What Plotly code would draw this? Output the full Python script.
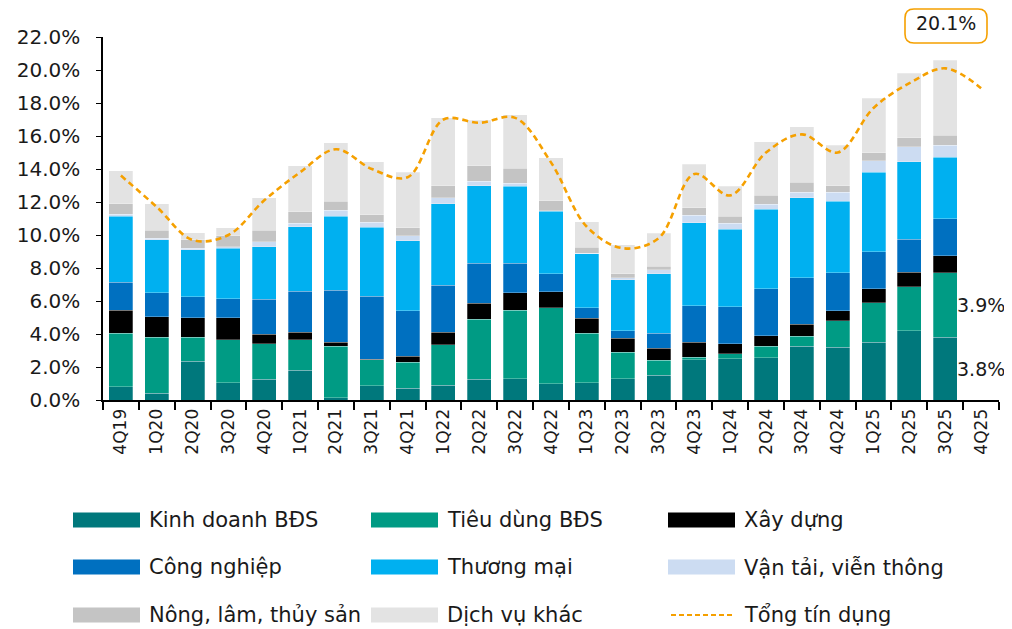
import plotly.graph_objects as go

quarters = ["4Q19", "1Q20", "2Q20", "3Q20", "4Q20", "1Q21", "2Q21", "3Q21", "4Q21",
            "1Q22", "2Q22", "3Q22", "4Q22", "1Q23", "2Q23", "3Q23", "4Q23",
            "1Q24", "2Q24", "3Q24", "4Q24", "1Q25", "2Q25", "3Q25", "4Q25"]

kinh_doanh_bds = [0.80, 0.40, 2.35, 1.05, 1.25, 1.80, 0.15, 0.85, 0.70, 0.90, 1.25, 1.30, 1.00,
                  1.05, 1.30, 1.50, 2.45, 2.50, 2.55, 3.25, 3.20, 3.50, 4.20, 3.80, None]
tieu_dung_bds = [3.25, 3.40, 1.45, 2.60, 2.15, 1.85, 3.10, 1.60, 1.60, 2.45, 3.65, 4.15, 4.60,
                 3.00, 1.60, 0.90, 0.15, 0.30, 0.70, 0.60, 1.60, 2.40, 2.65, 3.90, None]
xay_dung = [1.40, 1.25, 1.20, 1.35, 0.60, 0.45, 0.25, 0.03, 0.35, 0.75, 0.95, 1.05, 0.95,
            0.90, 0.85, 0.75, 0.90, 0.60, 0.65, 0.75, 0.60, 0.85, 0.90, 1.05, None]
cong_nghiep = [1.70, 1.45, 1.25, 1.15, 2.10, 2.50, 3.15, 3.80, 2.75, 2.85, 2.45, 1.80, 1.10,
               0.65, 0.45, 0.90, 2.20, 2.25, 2.85, 2.80, 2.30, 2.25, 2.00, 2.25, None]
thuong_mai = [4.00, 3.20, 2.85, 3.05, 3.20, 3.90, 4.50, 4.20, 4.25, 4.95, 4.70, 4.65, 3.80,
              3.25, 3.10, 3.60, 5.05, 4.70, 4.80, 4.85, 4.35, 4.80, 4.70, 3.70, None]
van_tai_vien_thong = [0.10, 0.10, 0.10, 0.10, 0.30, 0.20, 0.35, 0.30, 0.30, 0.35, 0.25, 0.20, 0.02,
                      0.05, 0.10, 0.25, 0.45, 0.35, 0.30, 0.35, 0.55, 0.70, 0.90, 0.75, None]
nong_lam_thuy_san = [0.65, 0.50, 0.50, 0.65, 0.70, 0.70, 0.55, 0.45, 0.50, 0.75, 0.95, 0.90, 0.60,
                     0.35, 0.25, 0.20, 0.45, 0.45, 0.55, 0.60, 0.40, 0.50, 0.55, 0.60, None]
dich_vu_khac = [2.00, 1.60, 0.45, 0.50, 1.95, 2.80, 3.55, 3.20, 3.35, 4.10, 2.75, 3.25, 2.60,
                1.55, 1.75, 2.00, 2.65, 1.80, 3.25, 3.35, 2.45, 3.30, 3.90, 4.55, None]
tong_tin_dung = [13.6, 11.7, 9.7, 10.0, 12.1, 13.8, 15.2, 14.0, 13.5, 17.0, 16.8, 17.1, 14.4,
                 10.5, 9.2, 9.8, 13.7, 12.4, 15.0, 16.1, 15.0, 17.7, 19.2, 20.1, 18.9]

series = [
    ("Kinh doanh BĐS", kinh_doanh_bds, "#00787C"),
    ("Tiêu dùng BĐS", tieu_dung_bds, "#009B84"),
    ("Xây dựng", xay_dung, "#000000"),
    ("Công nghiệp", cong_nghiep, "#0070C0"),
    ("Thương mại", thuong_mai, "#00B0F0"),
    ("Vận tải, viễn thông", van_tai_vien_thong, "#CCDCF2"),
    ("Nông, lâm, thủy sản", nong_lam_thuy_san, "#C4C4C4"),
    ("Dịch vụ khác", dich_vu_khac, "#E3E3E3"),
]
line_name = "Tổng tín dụng"
line_color = "#F5A000"

FONT = "DejaVu Sans"
TEXT = "#1a1a1a"
OFF = 8  # page body margin
W, H = 1012 - OFF, 629 - OFF
L, R, T, B = 103 - OFF, 13, 37 - OFF, 229
PW, PH = W - L - R, H - T - B


def px(x):
    return (x - OFF - L) / PW


def py(y):
    return (H - B - (y - OFF)) / PH


fig = go.Figure()
for name, vals, col in series:
    fig.add_trace(go.Bar(
        x=quarters, y=vals, name=name, marker_color=col,
        marker_line=dict(width=0.6, color="rgba(255,255,255,0.45)"),
        showlegend=False,
    ))
fig.add_trace(go.Scatter(
    x=quarters, y=tong_tin_dung, name=line_name, mode="lines",
    line=dict(color=line_color, width=2.6, dash="6px,4px", shape="spline", smoothing=1.0),
    showlegend=False,
))

shapes = []
annotations = []

# manual legend
cols_x = [73, 371, 668]
rows_y = [520, 567, 615]
entries = [(n, c, "bar") for n, _, c in series] + [(line_name, line_color, "line")]
for i, (name, col, kind) in enumerate(entries):
    r, c = divmod(i, 3)
    x0 = cols_x[c]
    yc = rows_y[r]
    if kind == "bar":
        shapes.append(dict(type="rect", xref="paper", yref="paper",
                           x0=px(x0), x1=px(x0 + 67), y0=py(yc + 7.5), y1=py(yc - 7.5),
                           fillcolor=col, line=dict(width=0)))
    else:
        shapes.append(dict(type="line", xref="paper", yref="paper",
                           x0=px(x0 + 3), x1=px(x0 + 67), y0=py(yc), y1=py(yc),
                           line=dict(color=col, width=2.2, dash="5px,3px")))
    annotations.append(dict(text=name, xref="paper", yref="paper", x=px(x0 + 74), y=py(yc),
                            xanchor="left", yanchor="middle", showarrow=False,
                            font=dict(family=FONT, size=21, color=TEXT)))

# labels for 3Q25 segments
i_last = quarters.index("3Q25")
kd = kinh_doanh_bds[i_last]
td = tieu_dung_bds[i_last]
annotations.append(dict(text=f"{td:.1f}%", x="4Q25", y=kd + td / 2, xref="x", yref="y",
                        showarrow=False, xanchor="center", yanchor="middle", xshift=0,
                        font=dict(family=FONT, size=19, color=TEXT)))
annotations.append(dict(text=f"{kd:.1f}%", x="4Q25", y=kd / 2, xref="x", yref="y",
                        showarrow=False, xanchor="center", yanchor="middle", xshift=0,
                        font=dict(family=FONT, size=19, color=TEXT)))

# highlighted total value box
bx0, bx1, by0, by1, rad = 905, 987, 9, 43, 9
rx, ry = rad / PW, rad / PH
X0, X1, Y0, Y1 = px(bx0), px(bx1), py(by1), py(by0)
path = (f"M{X0 + rx},{Y1} L{X1 - rx},{Y1} Q{X1},{Y1} {X1},{Y1 - ry} "
        f"L{X1},{Y0 + ry} Q{X1},{Y0} {X1 - rx},{Y0} L{X0 + rx},{Y0} "
        f"Q{X0},{Y0} {X0},{Y0 + ry} L{X0},{Y1 - ry} Q{X0},{Y1} {X0 + rx},{Y1} Z")
shapes.append(dict(type="path", xref="paper", yref="paper", path=path,
                   line=dict(color=line_color, width=1.6), fillcolor="white"))
annotations.append(dict(text=f"{tong_tin_dung[i_last]:.1f}%", xref="paper", yref="paper",
                        x=px((bx0 + bx1) / 2), y=py(23),
                        xanchor="center", yanchor="middle", showarrow=False,
                        font=dict(family=FONT, size=19, color=TEXT)))

fig.update_layout(
    width=W, height=H,
    margin=dict(l=L, r=R, t=T, b=B, autoexpand=False),
    barmode="stack", bargap=0.33,
    plot_bgcolor="white", paper_bgcolor="white",
    font=dict(family=FONT, size=18, color=TEXT),
    shapes=shapes, annotations=annotations,
    showlegend=False,
)
fig.update_xaxes(
    type="category", categoryorder="array", categoryarray=quarters,
    range=[-0.5, len(quarters) - 0.5],
    showline=True, linecolor="black", linewidth=2,
    ticks="outside", tickson="boundaries", ticklen=8, tickcolor="black", tickwidth=1.5,
    tickangle=-90, tickfont=dict(family=FONT, size=17, color=TEXT),
    showgrid=False, zeroline=False,
)
fig.update_yaxes(
    range=[0, 22], dtick=2, tickformat=".1f", ticksuffix="%",
    showline=True, linecolor="black", linewidth=1.5,
    ticks="outside", ticklen=5, tickcolor="black", tickwidth=1.2,
    ticklabelstandoff=12,
    tickfont=dict(family=FONT, size=20, color=TEXT),
    showgrid=False, zeroline=False,
)

fig.write_html("out.html")
